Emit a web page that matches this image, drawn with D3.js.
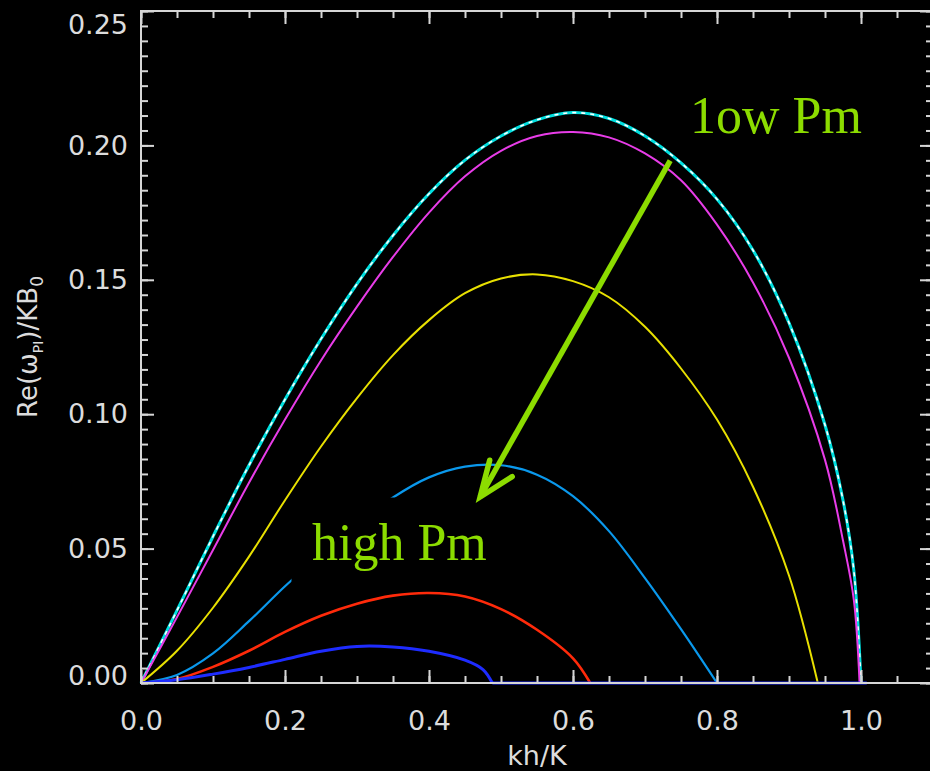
<!DOCTYPE html>
<html>
<head>
<meta charset="utf-8">
<script src="https://cdn.jsdelivr.net/npm/d3@7"></script>
<style>
    html, body { margin: 0; padding: 0; background: #000; }
    svg { display: block; }
</style>
</head>
<body>
<div id="chart"></div>
<script>
// growth rate curves (kh/K , Re(w)/KB0)
const khCyan = [0, 0.05, 0.1, 0.15, 0.2, 0.25, 0.3, 0.35, 0.4, 0.45, 0.5, 0.55, 0.6, 0.65, 0.7, 0.75, 0.8, 0.85, 0.9, 0.95, 0.975, 0.99, 1.0];
const reCyan = [0, 0.027, 0.0545, 0.081, 0.1055, 0.128, 0.1485, 0.1665, 0.182, 0.1945, 0.2035, 0.2095, 0.2122, 0.21, 0.2035, 0.1935, 0.18, 0.161, 0.134, 0.096, 0.068, 0.042, 0];

const khMagenta = [0, 0.05, 0.1, 0.15, 0.2, 0.25, 0.3, 0.35, 0.4, 0.45, 0.5, 0.55, 0.6, 0.65, 0.7, 0.75, 0.8, 0.85, 0.9, 0.95, 0.975, 0.99, 0.998];
const reMagenta = [0, 0.0245, 0.0495, 0.0745, 0.098, 0.12, 0.14, 0.1585, 0.175, 0.1885, 0.198, 0.2035, 0.205, 0.203, 0.197, 0.187, 0.1705, 0.149, 0.121, 0.083, 0.053, 0.031, 0];

const khYellow = [0, 0.05, 0.1, 0.15, 0.2, 0.25, 0.3, 0.35, 0.4, 0.45, 0.5, 0.55, 0.6, 0.65, 0.7, 0.75, 0.8, 0.85, 0.9, 0.94];
const reYellow = [0, 0.012, 0.028, 0.047, 0.068, 0.088, 0.106, 0.122, 0.135, 0.145, 0.1505, 0.152, 0.1495, 0.1435, 0.1325, 0.117, 0.098, 0.073, 0.04, 0];

const khLightBlue = [0, 0.05, 0.1, 0.15, 0.2, 0.25, 0.3, 0.35, 0.4, 0.45, 0.5, 0.55, 0.6, 0.65, 0.7, 0.75, 0.8];
const reLightBlue = [0, 0.003, 0.011, 0.023, 0.036, 0.048, 0.059, 0.069, 0.0765, 0.0805, 0.081, 0.0775, 0.0695, 0.0565, 0.039, 0.02, 0];

const khRed = [0, 0.05, 0.1, 0.15, 0.2, 0.25, 0.3, 0.35, 0.4, 0.45, 0.5, 0.55, 0.6, 0.624];
const reRed = [0, 0.0015, 0.006, 0.012, 0.019, 0.025, 0.0295, 0.0325, 0.0335, 0.0322, 0.0275, 0.0198, 0.0092, 0];

const khBlue = [0, 0.05, 0.1, 0.15, 0.2, 0.25, 0.3, 0.35, 0.4, 0.45, 0.475, 0.488];
const reBlue = [0, 0.0012, 0.0033, 0.0058, 0.0088, 0.0118, 0.0136, 0.0134, 0.0118, 0.0085, 0.005, 0];
// past its cutoff every mode sits on zero; the blue one is drawn on top
const khZero = [0.488, 1.008];
const reZero = [0, 0];

const xTicks = [0, 0.2, 0.4, 0.6, 0.8, 1.0];
const yTicks = [0, 0.05, 0.1, 0.15, 0.2, 0.25];

// arrow from "low Pm" to "high Pm", in data units
const arrowFrom = [0.735, 0.1943];
const arrowTo = [0.471, 0.0692];

const width = 930;
const height = 771;
const padding = { top: 11, right: -3, bottom: 88, left: 141 };
const axisColor = '#d6d6d6';
const green = '#8cdc00';

const xScale = d3.scaleLinear()
    .domain([0, 1.1])
    .range([padding.left, width - padding.right]);

const yScale = d3.scaleLinear()
    .domain([0, 0.25])
    .range([height - padding.bottom, padding.top]);

const svg = d3.select('#chart')
    .append('svg')
    .attr('width', width)
    .attr('height', height)
    .style('background', '#000');

const line = d3.line()
    .x(function(d) { return xScale(d[0]); })
    .y(function(d) { return yScale(d[1]); })
    .curve(d3.curveCatmullRom.alpha(0.5));

function pts(kh, re) {
    return kh.map(function(k, i) { return [k, re[i]]; });
}

const series = [
    { data: pts(khCyan, reCyan), color: '#00e0e0', w: 3 },
    { data: pts(khCyan, reCyan), color: '#ffffff', w: 1.6, dash: '4,5' },
    { data: pts(khMagenta, reMagenta), color: '#e83ce8', w: 2 },
    { data: pts(khYellow, reYellow), color: '#e8e000', w: 2 },
    { data: pts(khLightBlue, reLightBlue), color: '#0a98ec', w: 2.2 },
    { data: pts(khRed, reRed), color: '#ff2a0a', w: 2.6 },
    { data: pts(khBlue, reBlue), color: '#1e2cff', w: 3 },
    { data: pts(khZero, reZero), color: '#1e2cff', w: 3 }
];

svg.append('g')
    .selectAll('path')
    .data(series)
    .enter()
    .append('path')
    .attr('d', function(d) { return line(d.data); })
    .attr('fill', 'none')
    .attr('stroke', function(d) { return d.color; })
    .attr('stroke-width', function(d) { return d.w; })
    .attr('stroke-dasharray', function(d) { return d.dash || null; });

// axes (ticks point into the plot on all four sides)
const x0 = xScale(0);
const y0 = yScale(0);
const xMinor = d3.range(0, 22).map(function(i) { return i * 0.05; });
const yMinor = d3.range(0, 46).map(function(i) { return i * 0.25 / 45; });

function styleAxis(g) {
    g.select('.domain').remove();
    g.selectAll('line').attr('stroke', axisColor).attr('stroke-width', 2);
    g.selectAll('text')
        .attr('fill', '#dcdcdc')
        .style('font-family', 'DejaVu Sans, sans-serif')
        .style('font-size', '27px');
}

svg.append('g')
    .attr('transform', 'translate(0,' + y0 + ')')
    .call(d3.axisBottom(xScale).tickValues(xMinor).tickSize(-7).tickFormat(''))
    .call(styleAxis);
svg.append('g')
    .attr('transform', 'translate(0,' + y0 + ')')
    .call(d3.axisBottom(xScale).tickValues(xTicks).tickSize(-13).tickPadding(28).tickFormat(d3.format('.1f')))
    .call(styleAxis);

svg.append('g')
    .attr('transform', 'translate(0,' + padding.top + ')')
    .call(d3.axisTop(xScale).tickValues(xMinor).tickSize(-7).tickFormat(''))
    .call(styleAxis);
svg.append('g')
    .attr('transform', 'translate(0,' + padding.top + ')')
    .call(d3.axisTop(xScale).tickValues(xTicks).tickSize(-13).tickFormat(''))
    .call(styleAxis);

svg.append('g')
    .attr('transform', 'translate(' + x0 + ',0)')
    .call(d3.axisLeft(yScale).tickValues(yMinor).tickSize(-7).tickFormat(''))
    .call(styleAxis);
const yAxisG = svg.append('g')
    .attr('transform', 'translate(' + x0 + ',0)')
    .call(d3.axisLeft(yScale).tickValues(yTicks).tickSize(-13).tickPadding(13).tickFormat(d3.format('.2f')))
    .call(styleAxis);
// end labels sit inside the frame like the original
yAxisG.selectAll('.tick text')
    .attr('dy', function(d) {
        if (d === 0.25) return '0.85em';
        if (d === 0) return '0.05em';
        return '0.32em';
    });

const xRight = xScale(1.1);
svg.append('g')
    .attr('transform', 'translate(' + xRight + ',0)')
    .call(d3.axisRight(yScale).tickValues(yMinor).tickSize(-7).tickFormat(''))
    .call(styleAxis);
svg.append('g')
    .attr('transform', 'translate(' + xRight + ',0)')
    .call(d3.axisRight(yScale).tickValues(yTicks).tickSize(-13).tickFormat(''))
    .call(styleAxis);

svg.append('rect')
    .attr('x', x0)
    .attr('y', padding.top)
    .attr('width', xRight - x0)
    .attr('height', y0 - padding.top)
    .attr('fill', 'none')
    .attr('stroke', axisColor)
    .attr('stroke-width', 2);

// axis titles
svg.append('text')
    .attr('x', (x0 + xRight) / 2)
    .attr('y', 765)
    .attr('text-anchor', 'middle')
    .attr('fill', '#dcdcdc')
    .style('font-family', 'DejaVu Sans, sans-serif')
    .style('font-size', '27px')
    .text('kh/K');

const yTitle = svg.append('text')
    .attr('transform', 'translate(37,' + ((padding.top + y0) / 2) + ') rotate(-90)')
    .attr('text-anchor', 'middle')
    .attr('fill', '#dcdcdc')
    .style('font-family', 'DejaVu Sans, sans-serif')
    .style('font-size', '26px');
yTitle.append('tspan').text('Re(ω');
yTitle.append('tspan').attr('dy', 6).style('font-size', '14px').text('PI');
yTitle.append('tspan').attr('dy', -6).text(')/KB');
yTitle.append('tspan').attr('dy', 6).style('font-size', '17px').text('0');

// annotations
const hx = xScale(0.209);
const hy = yScale(0.069);
svg.append('rect')
    .attr('x', hx)
    .attr('y', hy)
    .attr('width', 212)
    .attr('height', 90)
    .attr('fill', '#000');

svg.append('text')
    .attr('x', 312)
    .attr('y', 560)
    .attr('fill', green)
    .style('font-family', 'Liberation Serif, serif')
    .style('font-size', '52px')
    .text('high Pm');

svg.append('text')
    .attr('x', 690)
    .attr('y', 133)
    .attr('fill', green)
    .style('font-family', 'Liberation Serif, serif')
    .style('font-size', '52px')
    .text('1ow Pm');

const ax1 = xScale(arrowFrom[0]);
const ay1 = yScale(arrowFrom[1]);
const ax2 = xScale(arrowTo[0]);
const ay2 = yScale(arrowTo[1]);
const ang = Math.atan2(ay1 - ay2, ax1 - ax2);
const headLen = 38;
const arms = [ang - 0.26, ang + 0.49].map(function(a) {
    return [ax2 + headLen * Math.cos(a), ay2 + headLen * Math.sin(a)];
});

svg.append('line')
    .attr('x1', ax1).attr('y1', ay1)
    .attr('x2', ax2).attr('y2', ay2)
    .attr('stroke', green)
    .attr('stroke-width', 5.5);

svg.append('path')
    .attr('d', 'M' + arms[0] + 'L' + ax2 + ',' + ay2 + 'L' + arms[1])
    .attr('fill', 'none')
    .attr('stroke', green)
    .attr('stroke-width', 5.5)
    .attr('stroke-linejoin', 'miter')
    .attr('stroke-linecap', 'round');
</script>
</body>
</html>
